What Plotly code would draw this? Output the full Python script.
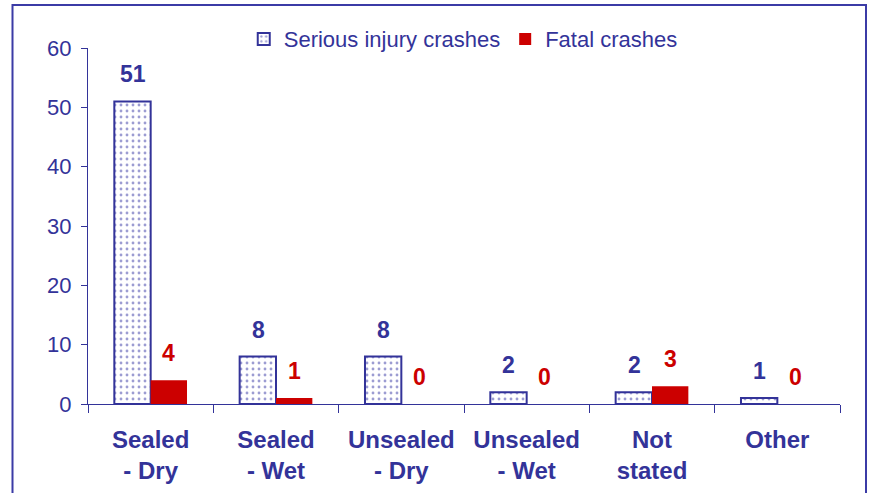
import plotly.graph_objects as go

categories = ["Sealed<br>- Dry", "Sealed<br>- Wet", "Unsealed<br>- Dry", "Unsealed<br>- Wet", "Not<br>stated", "Other"]
serious_injury = [51, 8, 8, 2, 2, 1]
fatal = [4, 1, 0, 0, 3, 0]
y_ticks = [0, 10, 20, 30, 40, 50, 60]

NAVY = "#333399"
RED = "#cc0000"
FONT = "Liberation Sans, Arial, sans-serif"

fig = go.Figure()
fig.add_trace(go.Bar(
    name="Serious injury crashes", x=categories, y=serious_injury,
    marker=dict(color="white", line=dict(color=NAVY, width=2),
                pattern=dict(shape=".", fgcolor="#3a3aa6", bgcolor="white", size=6, solidity=0.18)),
))
fig.add_trace(go.Bar(
    name="Fatal crashes", x=categories, y=fatal,
    marker=dict(color=RED, line=dict(color=RED, width=0)),
))

annotations = []
for c, v in zip(categories, serious_injury):
    annotations.append(dict(x=c, y=v, xref="x", yref="y", text=f"<b>{v}</b>", showarrow=False,
                            xshift=-18, yshift=27, font=dict(family=FONT, size=23, color=NAVY)))
for c, v in zip(categories, fatal):
    annotations.append(dict(x=c, y=v, xref="x", yref="y", text=f"<b>{v}</b>", showarrow=False,
                            xshift=18, yshift=27, font=dict(family=FONT, size=23, color=RED)))

fig.update_layout(
    width=873, height=493,
    margin=dict(l=88, r=33, t=48, b=89, autoexpand=False),
    paper_bgcolor="white", plot_bgcolor="white",
    barmode="group", bargap=0.42, bargroupgap=0,
    font=dict(family=FONT, color=NAVY, size=22),
    showlegend=True,
    legend=dict(orientation="h", x=0.499, y=1.025, xanchor="center", yanchor="middle",
                font=dict(family=FONT, size=22, color=NAVY), itemwidth=30,
                bgcolor="rgba(0,0,0,0)", tracegroupgap=0),
    annotations=annotations,
    shapes=[dict(type="rect", xref="paper", yref="paper",
                 x0=(12.5 - 88) / 752, x1=(866 - 88) / 752,
                 y0=(404 - 520) / 356, y1=(404 - 5) / 356,
                 line=dict(color="#3b3ba6", width=2), fillcolor="rgba(0,0,0,0)")],
)
fig.update_yaxes(range=[0, 60], tickvals=y_ticks, showgrid=False, zeroline=False,
                 showline=True, linecolor=NAVY, linewidth=1, ticks="outside", ticklen=6,
                 tickcolor=NAVY, tickfont=dict(family=FONT, size=22, color=NAVY),
                 ticklabelstandoff=5)
fig.update_xaxes(showgrid=False, showline=True, linecolor=NAVY, linewidth=1,
                 ticks="outside", tickson="boundaries", ticklen=8, tickcolor=NAVY,
                 tickfont=dict(family=FONT, size=24, color=NAVY), ticklabelstandoff=14)
fig.for_each_xaxis(lambda a: a.update(ticktext=[f"<b>{c}</b>" for c in categories], tickvals=categories))

fig.write_html("out.html", config={"displayModeBar": False},
               post_script="document.body.style.margin='0';document.body.style.padding='0';")
